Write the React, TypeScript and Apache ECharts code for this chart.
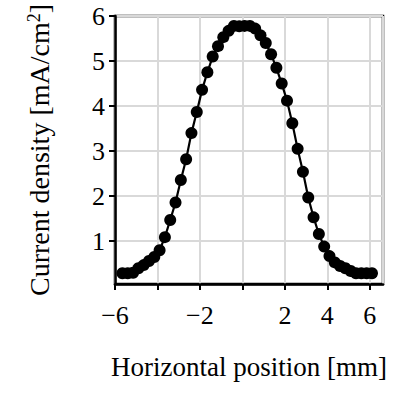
import React, { useEffect, useRef } from "react";
import * as echarts from "echarts";

const xValues = [-5.65, -5.4, -5.15, -4.9, -4.65, -4.4, -4.15, -3.9, -3.65, -3.4, -3.15, -2.9, -2.65, -2.4, -2.15, -1.9, -1.65, -1.4, -1.15, -0.9, -0.65, -0.4, -0.15, 0.1, 0.35, 0.6, 0.85, 1.1, 1.35, 1.6, 1.85, 2.1, 2.35, 2.6, 2.85, 3.1, 3.35, 3.6, 3.85, 4.1, 4.35, 4.6, 4.85, 5.1, 5.35, 5.6, 5.85, 6.1];
const yValues = [0.29, 0.29, 0.30, 0.40, 0.47, 0.56, 0.65, 0.80, 1.09, 1.47, 1.86, 2.36, 2.82, 3.40, 3.87, 4.36, 4.75, 5.10, 5.33, 5.53, 5.67, 5.78, 5.77, 5.78, 5.78, 5.72, 5.57, 5.40, 5.15, 4.85, 4.50, 4.12, 3.62, 3.05, 2.54, 1.97, 1.53, 1.16, 0.88, 0.67, 0.53, 0.45, 0.40, 0.34, 0.29, 0.29, 0.29, 0.29];
const yTicks = [1, 2, 3, 4, 5, 6];
const xHiddenLabels = [-4, 0];

const FONT = "Liberation Serif";

export default function App() {
  const ref = useRef<HTMLDivElement>(null);
  useEffect(() => {
    if (!ref.current) return;
    const chart = echarts.init(ref.current, null, { renderer: "svg" });
    const data = xValues.map((x, i) => [x, yValues[i]]);
    chart.setOption({
      animation: false,
      backgroundColor: "#fff",
      grid: {
        left: 115,
        right: 16,
        top: 16,
        bottom: 115,
        show: true,
        borderColor: "#000",
        borderWidth: 2.5,
        backgroundColor: "transparent",
      },
      xAxis: {
        type: "value",
        min: -6,
        max: 6.62,
        interval: 2,
        name: "Horizontal position [mm]",
        nameLocation: "middle",
        nameGap: 69,
        nameTextStyle: { fontFamily: FONT, fontSize: 27, color: "#000" },
        axisLine: { show: true, onZero: false, lineStyle: { color: "#000", width: 2.5 } },
        axisTick: { show: true, inside: false, length: 6, lineStyle: { color: "#000", width: 2 } },
        axisLabel: {
          fontFamily: FONT,
          fontSize: 26,
          color: "#000",
          margin: 18,
          showMaxLabel: false,
          formatter: (v: number) =>
            xHiddenLabels.includes(v) ? "" : String(v).replace("-", "\u2212"),
        },
        splitLine: { show: true, lineStyle: { color: "#d9d9d9", width: 2 } },
      },
      yAxis: {
        type: "value",
        min: 0.05,
        max: 6,
        name: "Current density [mA/cm{sup|2}]",
        nameLocation: "middle",
        nameGap: 62,
        nameRotate: 90,
        nameTextStyle: {
          fontFamily: FONT,
          fontSize: 28,
          color: "#000",
          rich: {
            sup: { fontFamily: FONT, fontSize: 18, color: "#000", verticalAlign: "top", lineHeight: 16, padding: [0, 0, 12, 0] },
          },
        },
        axisLine: { show: true, onZero: false, lineStyle: { color: "#000", width: 2.5 } },
        axisTick: { show: true, inside: false, length: 6, customValues: yTicks, lineStyle: { color: "#000", width: 2 } },
        axisLabel: { fontFamily: FONT, fontSize: 26, color: "#000", margin: 10, customValues: yTicks },
        splitLine: { show: true, lineStyle: { color: "#d9d9d9", width: 2 } },
      },
      series: [
        {
          type: "line",
          data,
          symbol: "circle",
          symbolSize: 12,
          showAllSymbol: true,
          lineStyle: { color: "#000", width: 2.2 },
          itemStyle: { color: "#000" },
          z: 5,
        },
      ],
    });
    return () => chart.dispose();
  }, []);
  return (
    <div
      ref={ref}
      style={{ position: "fixed", left: 0, top: 0, width: 399, height: 399 }}
    />
  );
}
